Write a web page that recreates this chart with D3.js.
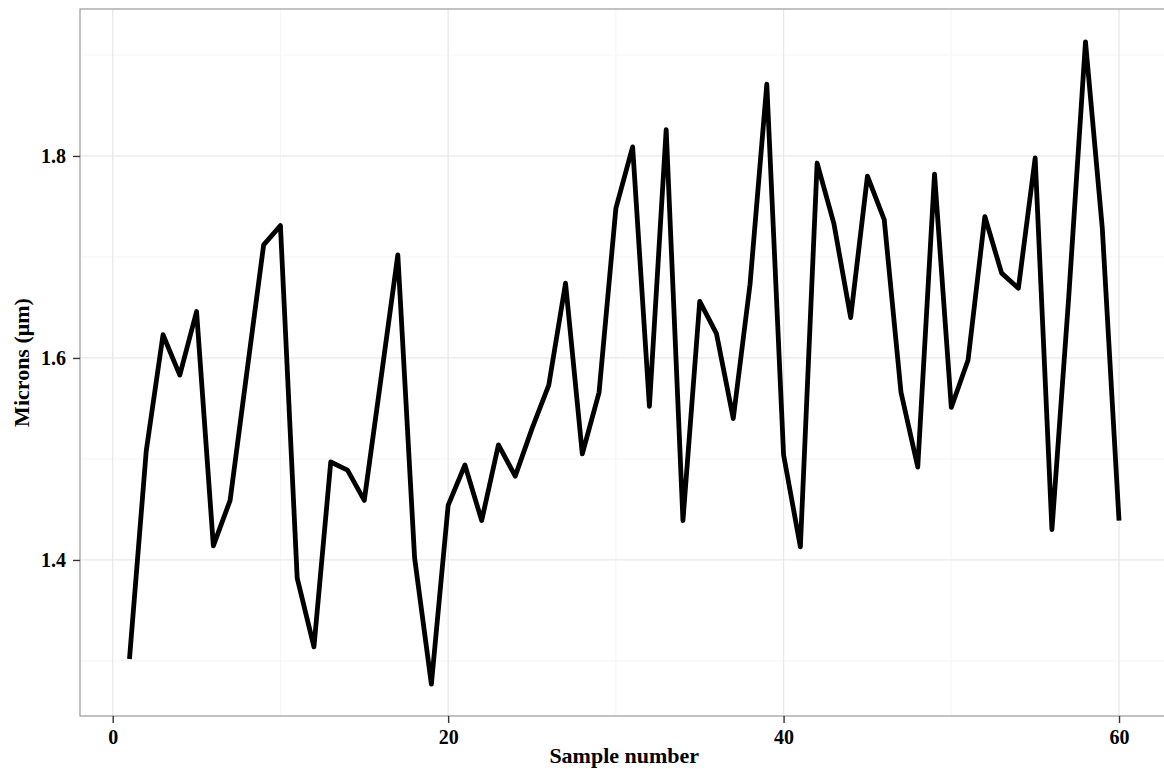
<!DOCTYPE html>
<html>
<head>
<meta charset="utf-8">
<script src="https://cdn.jsdelivr.net/npm/d3@7"></script>
<style>
  html, body { margin: 0; padding: 0; background: #fff; }
  svg { display: block; }
  text { font-family: "Liberation Serif", "Times New Roman", "DejaVu Serif", serif; font-weight: bold; fill: #000; }
</style>
</head>
<body>
<svg id="chart" width="1164" height="769"></svg>
<script>
// ---- data ----
const sampleNumbers = [1,2,3,4,5,6,7,8,9,10,11,12,13,14,15,16,17,18,19,20,
  21,22,23,24,25,26,27,28,29,30,31,32,33,34,35,36,37,38,39,40,
  41,42,43,44,45,46,47,48,49,50,51,52,53,54,55,56,57,58,59,60];
const microns = [1.302,1.508,1.623,1.583,1.646,1.414,1.459,1.586,1.712,1.731,
  1.382,1.314,1.497,1.489,1.459,1.580,1.702,1.402,1.277,1.454,
  1.494,1.439,1.514,1.483,1.530,1.573,1.674,1.505,1.566,1.748,
  1.809,1.552,1.826,1.439,1.656,1.624,1.540,1.673,1.871,1.504,
  1.413,1.793,1.733,1.640,1.780,1.737,1.566,1.492,1.782,1.551,
  1.598,1.740,1.684,1.669,1.798,1.430,1.660,1.913,1.729,1.439];
const xTicks = [0, 20, 40, 60];
const xMinor = [10, 30, 50];
const yTicks = [1.4, 1.6, 1.8];
const yMinor = [1.3, 1.5, 1.7, 1.9];
const xTitle = "Sample number";
const yTitle = "Microns (\u03bcm)";

// ---- layout ----
const svg = d3.select("#chart");
const pLeft = 80, pRight = 1168.5, pTop = 9, pBottom = 716;

const x = d3.scaleLinear().domain([-1.95, 62.95]).range([pLeft, pRight]);
const y = d3.scaleLinear().domain([1.2455, 1.9455]).range([pBottom, pTop]);

const g = svg.append("g");

// minor grid
g.selectAll(".xminor").data(xMinor).enter().append("line")
  .attr("x1", d => x(d)).attr("x2", d => x(d)).attr("y1", pTop).attr("y2", pBottom)
  .attr("stroke", "#f5f5f5").attr("stroke-width", 1);
g.selectAll(".yminor").data(yMinor).enter().append("line")
  .attr("x1", pLeft).attr("x2", pRight).attr("y1", d => y(d)).attr("y2", d => y(d))
  .attr("stroke", "#f5f5f5").attr("stroke-width", 1);
// major grid
g.selectAll(".xmajor").data(xTicks).enter().append("line")
  .attr("x1", d => x(d)).attr("x2", d => x(d)).attr("y1", pTop).attr("y2", pBottom)
  .attr("stroke", "#e8e8e8").attr("stroke-width", 1.3);
g.selectAll(".ymajor").data(yTicks).enter().append("line")
  .attr("x1", pLeft).attr("x2", pRight).attr("y1", d => y(d)).attr("y2", d => y(d))
  .attr("stroke", "#e8e8e8").attr("stroke-width", 1.3);

// line
const line = d3.line().x((d, i) => x(sampleNumbers[i])).y(d => y(d));
g.append("path").datum(microns)
  .attr("d", line)
  .attr("fill", "none")
  .attr("stroke", "#000")
  .attr("stroke-width", 4.8)
  .attr("stroke-linejoin", "round")
  .attr("stroke-linecap", "butt");

// panel border
g.append("rect")
  .attr("x", pLeft).attr("y", pTop).attr("width", pRight - pLeft).attr("height", pBottom - pTop)
  .attr("fill", "none").attr("stroke", "#9a9a9a").attr("stroke-width", 1.2);

// axes
const xAxis = d3.axisBottom(x).tickValues(xTicks).tickFormat(d3.format("d")).tickSize(7).tickPadding(6);
const xg = svg.append("g").attr("transform", `translate(0,${pBottom})`).call(xAxis);
xg.select(".domain").remove();
xg.selectAll(".tick line").attr("stroke", "#333").attr("stroke-width", 1.4);
xg.selectAll(".tick text").attr("font-size", 20).attr("dy", 0)
  .attr("y", 28)
  .style("font-family", '"Liberation Serif", "Times New Roman", serif').style("font-weight", "bold");

const yAxis = d3.axisLeft(y).tickValues(yTicks).tickFormat(d3.format(".1f")).tickSize(7).tickPadding(7);
const yg = svg.append("g").attr("transform", `translate(${pLeft},0)`).call(yAxis);
yg.select(".domain").remove();
yg.selectAll(".tick line").attr("stroke", "#333").attr("stroke-width", 1.4);
yg.selectAll(".tick text").attr("font-size", 20).attr("dy", "0.34em")
  .style("font-family", '"Liberation Serif", "Times New Roman", serif').style("font-weight", "bold");

// titles
svg.append("text")
  .attr("x", (pLeft + pRight) / 2).attr("y", 763)
  .attr("text-anchor", "middle").attr("font-size", 22)
  .text(xTitle);
svg.append("text")
  .attr("transform", `translate(29,${(pTop + pBottom) / 2}) rotate(-90)`)
  .attr("text-anchor", "middle").attr("font-size", 22)
  .text(yTitle);
</script>
</body>
</html>
